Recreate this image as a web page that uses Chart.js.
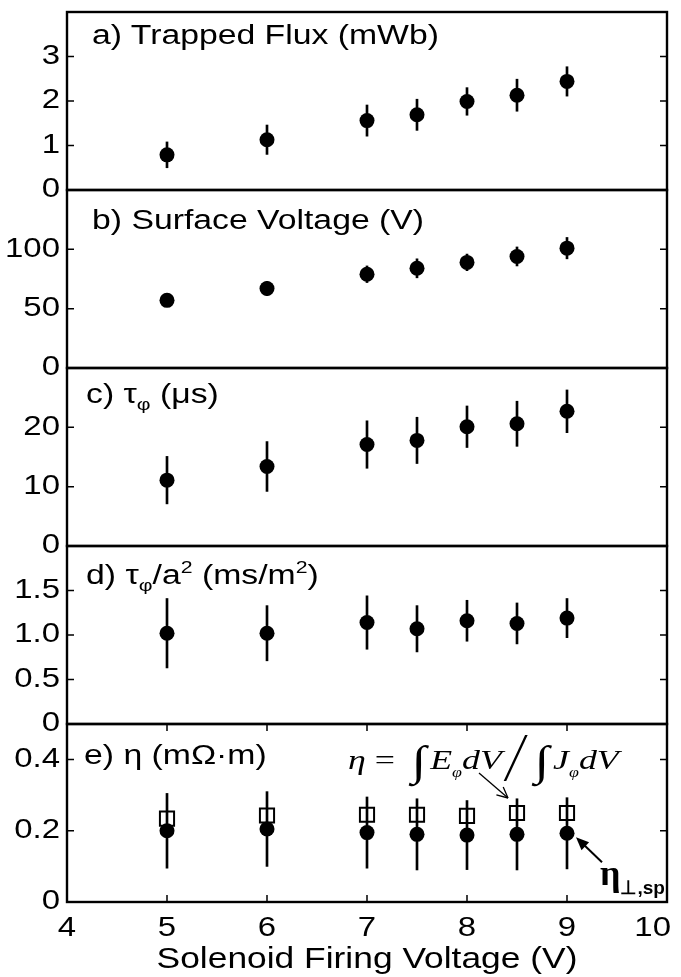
<!DOCTYPE html>
<html>
<head>
<meta charset="utf-8">
<script src="https://cdn.jsdelivr.net/npm/chart.js@4.4.1/dist/chart.umd.min.js"></script>
<style>
  html, body { margin: 0; padding: 0; background: #fff; }
  #wrap { position: relative; width: 681px; height: 977px; overflow: hidden; }
  #chart { position: absolute; left: 0; top: 0; }
  .lbl {
    position: absolute;
    font-family: 'Liberation Sans', Arial, sans-serif;
    font-size: 27px; line-height: 27px; color: #000; white-space: nowrap;
    transform: scaleX(1.25); transform-origin: left top;
  }
  .lbl sub { font-size: 17px; vertical-align: -7px; line-height: 0; }
  .lbl sup { font-size: 17px; vertical-align: 11px; line-height: 0; }
  .formula {
    position: absolute; white-space: nowrap; color: #000;
    font-family: 'Liberation Serif', 'Times New Roman', serif;
    font-size: 28px; line-height: 28px;
    transform: scaleX(1.28); transform-origin: left top;
  }
  .formula i { font-style: italic; }
  .formula sub { font-style: italic; font-size: 14px; vertical-align: -8px; line-height: 0; }
  .formula .int { font-size: 42px; vertical-align: -6px; margin: 0 3px 0 6px; }
  .formula .slash {
    display: inline-block; width: 1.5px; height: 46px; background: #000;
    vertical-align: -12px; margin: 0 8px 0 10px; transform: skewX(-20deg);
  }
  .sp {
    position: absolute; white-space: nowrap; color: #000;
    font-family: 'Liberation Serif', 'Times New Roman', serif;
    font-weight: bold; font-size: 36px; line-height: 36px;
  }
  .sp sub { font-family: 'Liberation Sans', Arial, sans-serif; font-size: 19px; vertical-align: -9px; line-height: 0; }
</style>
</head>
<body>
<div id="wrap">
  <canvas id="chart" width="681" height="977"></canvas>
  <div class="lbl" style="left:92px; top:22px;">a) Trapped Flux (mWb)</div>
  <div class="lbl" style="left:92px; top:207px;">b) Surface Voltage (V)</div>
  <div class="lbl" style="left:86px; top:381px;">c) τ<sub>φ</sub> (μs)</div>
  <div class="lbl" style="left:86px; top:562px;">d) τ<sub>φ</sub>/a<sup>2</sup> (ms/m<sup>2</sup>)</div>
  <div class="lbl" style="left:84px; top:742px;">e) η (mΩ·m)</div>
  <div class="formula" style="left:348px; top:735px;"><i>η</i> = <span class="int">∫</span><i>E</i><sub>φ</sub><i>dV</i><span class="slash"></span><span class="int">∫</span><i>J</i><sub>φ</sub><i>dV</i></div>
  <div class="sp" style="left:600px; top:855px;">η<sub>⊥,sp</sub></div>
</div>
<script>
// shared x values (solenoid firing voltage, V)
const voltage = [5, 6, 7, 7.5, 8, 8.5, 9];
const xTicks = [4, 5, 6, 7, 8, 9, 10];

// a) trapped flux (mWb)
const fluxVals = [0.79, 1.13, 1.56, 1.69, 1.99, 2.13, 2.44];
const fluxErr = [0.29, 0.33, 0.35, 0.35, 0.31, 0.36, 0.33];
const fluxTicks = [0, 1, 2, 3];
const fluxTickLabels = ['0', '1', '2', '3'];

// b) surface voltage (V)
const surfVals = [57, 67, 79, 84, 89, 94, 101];
const surfErr = [5, 6, 7, 8, 7, 8, 9];
const surfTicks = [0, 50, 100];
const surfTickLabels = ['0', '50', '100'];

// c) tau_phi (us)
const tauVals = [11.1, 13.4, 17.1, 17.8, 20.1, 20.6, 22.7];
const tauErr = [4.0, 4.2, 4.0, 3.9, 3.5, 3.8, 3.6];
const tauTicks = [0, 10, 20];
const tauTickLabels = ['0', '10', '20'];

// d) tau_phi / a^2 (ms/m^2)
const tauNormVals = [1.02, 1.02, 1.14, 1.07, 1.16, 1.13, 1.19];
const tauNormErr = [0.39, 0.31, 0.30, 0.26, 0.23, 0.23, 0.22];
const tauNormTicks = [0, 0.5, 1, 1.5];
const tauNormTickLabels = ['0', '0.5', '1.0', '1.5'];

// e) resistivity (mOhm m): Spitzer (filled) and volume-integral (open squares)
const etaSpVals = [0.200, 0.205, 0.195, 0.190, 0.188, 0.190, 0.193];
const etaSpErr = [0.105, 0.105, 0.100, 0.100, 0.097, 0.100, 0.100];
const etaIntVals = [0.234, 0.243, 0.245, 0.245, 0.242, 0.250, 0.250];
const etaTicks = [0, 0.2, 0.4];
const etaTickLabels = ['0', '0.2', '0.4'];

// the original figure is stretched sideways, so canvas text is too
const TEXT_STRETCH = 1.22;
const TEXT_RIGHT_LIMIT = 671;
const tickFont = { family: "'Liberation Sans', Arial, sans-serif", size: 27 };

// top to bottom
const panels = [
  { id: 'ya', max: 4, ticks: fluxTicks, labels: fluxTickLabels, vals: fluxVals, err: fluxErr },
  { id: 'yb', max: 150, ticks: surfTicks, labels: surfTickLabels, vals: surfVals, err: surfErr },
  { id: 'yc', max: 30, ticks: tauTicks, labels: tauTickLabels, vals: tauVals, err: tauErr },
  { id: 'yd', max: 2, ticks: tauNormTicks, labels: tauNormTickLabels, vals: tauNormVals, err: tauNormErr },
  { id: 'ye', max: 0.5, ticks: etaTicks, labels: etaTickLabels, vals: etaSpVals, err: etaSpErr }
];

const scales = {
  x: {
    type: 'linear', position: 'bottom', min: 4, max: 10, offset: false,
    afterBuildTicks: s => { s.ticks = xTicks.map(v => ({ value: v })); },
    afterFit: s => { s.height = 75; s.paddingLeft = 0; s.paddingRight = 0; },
    grid: { display: false, drawTicks: false },
    border: { display: false },
    ticks: { font: tickFont, color: '#000', padding: 10, maxRotation: 0, autoSkip: false },
    title: {
      display: true, text: 'Solenoid Firing Voltage (V)', color: '#000',
      font: { family: "'Liberation Sans', Arial, sans-serif", size: 29 },
      padding: { top: 0, bottom: 0 }
    }
  }
};

// later scales get stacked on top, so add the bottom panel first
panels.slice().reverse().forEach(p => {
  scales[p.id] = {
    type: 'linear', position: 'left', stack: 'panels', stackWeight: 1,
    min: 0, max: p.max,
    afterBuildTicks: s => { s.ticks = p.ticks.map(v => ({ value: v })); },
    afterFit: s => { s.width = 67; s.paddingTop = 0; s.paddingBottom = 0; },
    grid: { display: false, drawTicks: false },
    border: { display: false },
    ticks: {
      font: tickFont, color: '#000', padding: 7, autoSkip: false,
      callback: v => p.labels[p.ticks.indexOf(v)]
    }
  };
});

const datasets = [];
panels.forEach(p => {
  datasets.push({
    type: 'scatter', yAxisID: p.id, order: 0,
    data: voltage.map((v, i) => ({ x: v, y: p.vals[i] })),
    pointRadius: 7.5, pointHoverRadius: 7.5,
    pointBackgroundColor: '#000', pointBorderColor: '#000', pointBorderWidth: 0
  });
  datasets.push({
    type: 'bar', yAxisID: p.id, order: 2, grouped: false,
    data: voltage.map((v, i) => ({ x: v, y: [p.vals[i] - p.err[i], p.vals[i] + p.err[i]] })),
    backgroundColor: '#000', borderWidth: 0, barThickness: 2
  });
});
datasets.push({
  type: 'scatter', yAxisID: 'ye', order: 1,
  data: voltage.map((v, i) => ({ x: v, y: etaIntVals[i] })),
  pointStyle: 'rect', pointRadius: 10, pointHoverRadius: 10,
  pointBackgroundColor: 'rgba(0,0,0,0)', pointBorderColor: '#000', pointBorderWidth: 2
});

// arrow targets in panel e
const formulaArrowIdx = 5;
const spArrowIdx = 6;

function arrowLine(ctx, x1, y1, x2, y2, filled) {
  const a = Math.atan2(y2 - y1, x2 - x1);
  const len = filled ? 14 : 12;
  const spread = filled ? 0.4 : 0.45;
  ctx.beginPath();
  ctx.moveTo(x1, y1);
  ctx.lineTo(filled ? x2 - Math.cos(a) * 8 : x2, filled ? y2 - Math.sin(a) * 8 : y2);
  ctx.stroke();
  ctx.beginPath();
  ctx.moveTo(x2, y2);
  ctx.lineTo(x2 - len * Math.cos(a - spread), y2 - len * Math.sin(a - spread));
  if (filled) {
    ctx.lineTo(x2 - len * Math.cos(a + spread), y2 - len * Math.sin(a + spread));
    ctx.closePath();
    ctx.fill();
  } else {
    ctx.moveTo(x2, y2);
    ctx.lineTo(x2 - len * Math.cos(a + spread), y2 - len * Math.sin(a + spread));
    ctx.stroke();
  }
}

const stretchText = {
  id: 'stretchText',
  beforeDraw(chart) {
    const ctx = chart.ctx;
    if (ctx._stretched) return;
    const fill = ctx.fillText;
    ctx.fillText = function (text, x, y) {
      // keep the last x label ("10") inside the canvas like the original
      if (this.textAlign === 'center') {
        const half = this.measureText(text).width * TEXT_STRETCH / 2;
        const gx = this.getTransform().e + x;
        if (gx + half > TEXT_RIGHT_LIMIT) x -= gx + half - TEXT_RIGHT_LIMIT;
      }
      this.save();
      this.translate(x, y);
      this.scale(TEXT_STRETCH, 1);
      fill.call(this, text, 0, 0);
      this.restore();
    };
    ctx._stretched = true;
  }
};

const panelFrame = {
  id: 'panelFrame',
  afterDraw(chart) {
    const ctx = chart.ctx;
    const area = chart.chartArea;
    const xs = chart.scales.x;
    const es = chart.scales.ye;
    ctx.save();
    ctx.strokeStyle = '#000';
    ctx.fillStyle = '#000';
    panels.forEach(p => {
      const s = chart.scales[p.id];
      ctx.lineWidth = 1.5;
      s.ticks.forEach(t => {
        const y = s.getPixelForValue(t.value);
        ctx.beginPath();
        ctx.moveTo(area.left, y); ctx.lineTo(area.left + 7, y);
        ctx.moveTo(area.right, y); ctx.lineTo(area.right - 7, y);
        ctx.stroke();
      });
      ctx.lineWidth = 2.4;
      ctx.strokeRect(area.left, s.top, area.right - area.left, s.bottom - s.top);
    });
    ctx.lineWidth = 1.5;
    xs.ticks.forEach(t => {
      const x = xs.getPixelForValue(t.value);
      ctx.beginPath();
      ctx.moveTo(x, es.bottom); ctx.lineTo(x, es.bottom - 7);
      ctx.moveTo(x, es.top); ctx.lineTo(x, es.top + 7);
      ctx.stroke();
    });
    // annotation arrows
    const fx = xs.getPixelForValue(voltage[formulaArrowIdx]);
    const fy = es.getPixelForValue(etaIntVals[formulaArrowIdx]);
    ctx.lineWidth = 1.3;
    arrowLine(ctx, fx - 38, fy - 40, fx - 9, fy - 15, false);
    const sx = xs.getPixelForValue(voltage[spArrowIdx]);
    const sy = es.getPixelForValue(etaSpVals[spArrowIdx]);
    ctx.lineWidth = 2;
    arrowLine(ctx, sx + 35, sy + 29, sx + 9, sy + 4, true);
    ctx.restore();
  }
};

new Chart(document.getElementById('chart'), {
  data: { datasets },
  options: {
    responsive: false,
    animation: false,
    events: [],
    layout: { padding: { top: 11, right: 14, left: 0, bottom: 0 } },
    plugins: { legend: { display: false }, tooltip: { enabled: false } },
    scales
  },
  plugins: [stretchText, panelFrame]
});
</script>
</body>
</html>
